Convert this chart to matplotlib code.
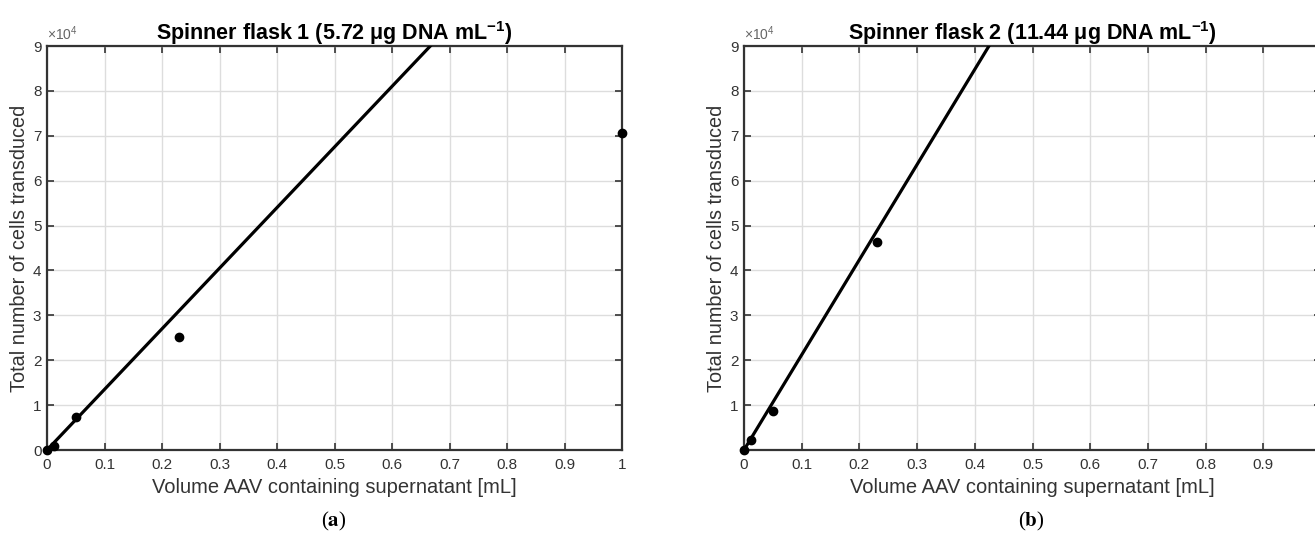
import numpy as np
import matplotlib
matplotlib.use("Agg")
import matplotlib.pyplot as plt

plt.rcParams['font.family'] = ['Liberation Sans', 'DejaVu Sans']
plt.rcParams['mathtext.fontset'] = 'custom'
plt.rcParams['mathtext.rm'] = 'Liberation Sans'
plt.rcParams['mathtext.bf'] = 'Liberation Sans:bold'

# data
volume_1 = [0.0, 0.0125, 0.05, 0.23, 1.0]
cells_1 = [0, 900, 7300, 25200, 70600]
slope_1 = 135000.0

volume_2 = [0.0, 0.0125, 0.05, 0.23]
cells_2 = [0, 2300, 8700, 46300]
slope_2 = 212000.0

titles = ["Spinner flask 1 (5.72 \u03bcg DNA mL$^{\\mathbf{-1}}$)",
          "Spinner flask 2 (11.44 \u03bcg DNA mL$^{\\mathbf{-1}}$)"]
captions = ["a", "b"]
xticks = [0, 0.1, 0.2, 0.3, 0.4, 0.5, 0.6, 0.7, 0.8, 0.9, 1]
yticks = [0, 1, 2, 3, 4, 5, 6, 7, 8, 9]

W, H = 1315, 536
fig = plt.figure(figsize=(W / 100, H / 100), dpi=100)

ax_boxes = [(47, 46, 575, 404), (744, 46, 577, 404)]
tick_col = '#333333'

for i, (box, vol, cells, slope) in enumerate(zip(ax_boxes, [volume_1, volume_2],
                                                  [cells_1, cells_2], [slope_1, slope_2])):
    x0, y0, w, h = box
    ax = fig.add_axes([x0 / W, 1 - (y0 + h) / H, w / W, h / H])
    fx = np.linspace(0, 1, 200)
    ax.plot(fx, slope * fx, color='black', lw=2.3, zorder=3)
    ax.plot(vol, cells, 'o', color='black', ms=6, zorder=4, clip_on=False)
    ax.set_xlim(0, 1)
    ax.set_ylim(0, 90000)
    ax.set_xticks(xticks)
    ax.set_yticks([t * 1e4 for t in yticks])
    if i == 0:
        ax.set_xticklabels([f"{t:g}" for t in xticks])
        ax.set_yticklabels([str(t) for t in yticks])
    else:
        ax.set_xticklabels([f"{t:g}" for t in xticks[:-1]] + [''])
        ax.set_yticklabels([''] + [str(t) for t in yticks[1:]])
    ax.grid(True, color='#dddddd', lw=1.0)
    ax.set_axisbelow(True)
    ax.tick_params(direction='in', length=5, width=1.2, top=True, right=True,
                   labelsize=11, colors=tick_col, pad=4)
    ax.tick_params(axis='x', pad=6)
    for s in ax.spines.values():
        s.set_color(tick_col)
        s.set_linewidth(1.6)
    ax.set_title(titles[i], fontsize=15.5, fontweight='bold', pad=4, color='black')
    ax.set_xlabel("Volume AAV containing supernatant [mL]", fontsize=14.5,
                  color=tick_col, labelpad=4)
    ax.set_ylabel("Total number of cells transduced", fontsize=14.3,
                  color=tick_col, labelpad=3)
    ax.text(0.0, 1.008, "\u00d710$^4$", transform=ax.transAxes, fontsize=10,
            color='#666666', ha='left', va='bottom')
    cx = (x0 + 287) / W
    fig.text(cx, 1 - 521 / H, "(" + "$\\mathbf{" + captions[i] + "}$" + ")",
             ha='center', va='center', fontsize=15, family='Liberation Serif',
             math_fontfamily='stix')

fig.savefig("out.png", dpi=100)
